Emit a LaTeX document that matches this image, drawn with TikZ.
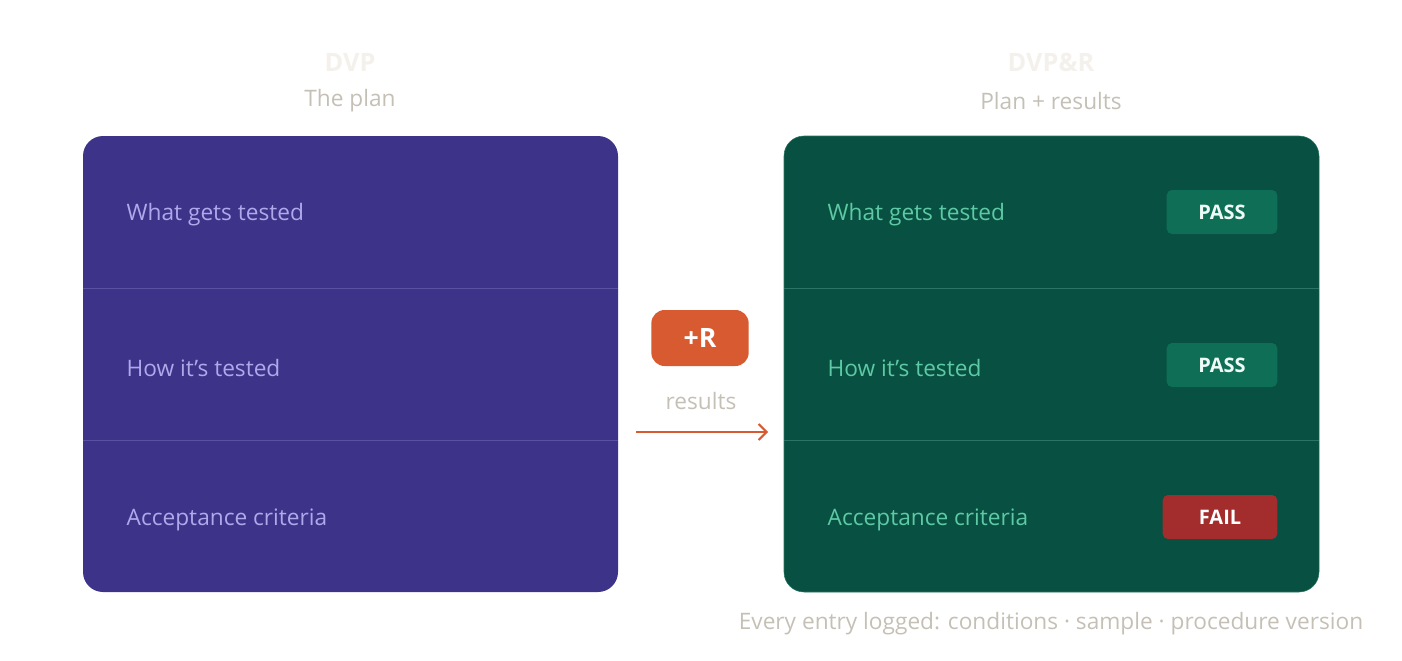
\documentclass[tikz,border=0pt]{standalone}
\usepackage{fontspec}
\setmainfont{Open Sans}
\usetikzlibrary{positioning,arrows.meta}
\definecolor{plan}{HTML}{3D3388}
\definecolor{planline}{HTML}{5A52A0}
\definecolor{plantext}{HTML}{AFA9EC}
\definecolor{res}{HTML}{085041}
\definecolor{resline}{HTML}{2A7563}
\definecolor{restext}{HTML}{5DCAA5}
\definecolor{pass}{HTML}{0F6E56}
\definecolor{fail}{HTML}{A32D2D}
\definecolor{accent}{HTML}{D85A30}
\definecolor{muted}{HTML}{C4C0B6}
\definecolor{ghost}{HTML}{F4F1EC}
\begin{document}
\begin{tikzpicture}
[x=0.75pt, y=-0.75pt, font=\fontsize{17}{20}\selectfont,
title/.style={font=\fontsize{19}{22}\selectfont\bfseries, text=ghost},
sub/.style={font=\fontsize{17}{20}\selectfont, text=muted},
item/.style={anchor=west, font=\fontsize{17}{20}\selectfont},
badge/.style={rounded corners=4pt, text=white, font=\fontsize{15}{18}\selectfont\bfseries, minimum height=33pt, inner sep=0pt}
]
\useasboundingbox (0,0) rectangle (1402,660);

% headings
\node[title] (dvp) at (350,62) {DVP};
\node[sub] (plan) at (350,101) {The plan};
\node[title] (dvpr) at (1051,62) {DVP\&R};
\node[sub] (planres) at (1051,101) {Plan + results};

% left card
\fill[plan, rounded corners=15pt] (83,136) rectangle (618,592);
\draw[planline] (83,288) -- (618,288);
\draw[planline] (83,440) -- (618,440);
\node[item, text=plantext] (l1) at (122,215) {What gets tested};
\node[item, text=plantext] (l2) at (122,368) {How it\symbol{39}s tested};
\node[item, text=plantext] (l3) at (122,520) {Acceptance criteria};

% right card
\filldraw[fill=res, draw=resline, rounded corners=15pt] (784,136) rectangle (1319,592);
\draw[resline] (784,288) -- (1319,288);
\draw[resline] (784,440) -- (1319,440);
\node[item, text=restext] (r1) at (823,215) {What gets tested};
\node[item, text=restext] (r2) at (823,368) {How it\symbol{39}s tested};
\node[item, text=restext] (r3) at (823,520) {Acceptance criteria};
\node[badge, fill=pass, text=white!90!restext, minimum width=83pt] (p1) at (1222,212) {PASS};
\node[badge, fill=pass, text=white!90!restext, minimum width=83pt] (p2) at (1222,365) {PASS};
\node[badge, fill=fail, minimum width=86pt] (f3) at (1220,517) {FAIL};

% middle
\node[badge, fill=accent, rounded corners=10pt, minimum width=73pt, minimum height=42pt, font=\fontsize{20}{24}\selectfont\bfseries] (plus) at (700,338) {+R};
\node[sub] (results) at (701,401) {results};
\coordinate (a0) at (636,432);
\coordinate (a1) at (768,432);
\draw[accent, line width=1.5pt, -{Straight Barb[length=6pt,width=12pt]}] (a0) -- (a1);

% footer
\node[sub] (foot) at (1051,624) {Every entry logged: conditions · sample · procedure version};
\end{tikzpicture}
\end{document}
